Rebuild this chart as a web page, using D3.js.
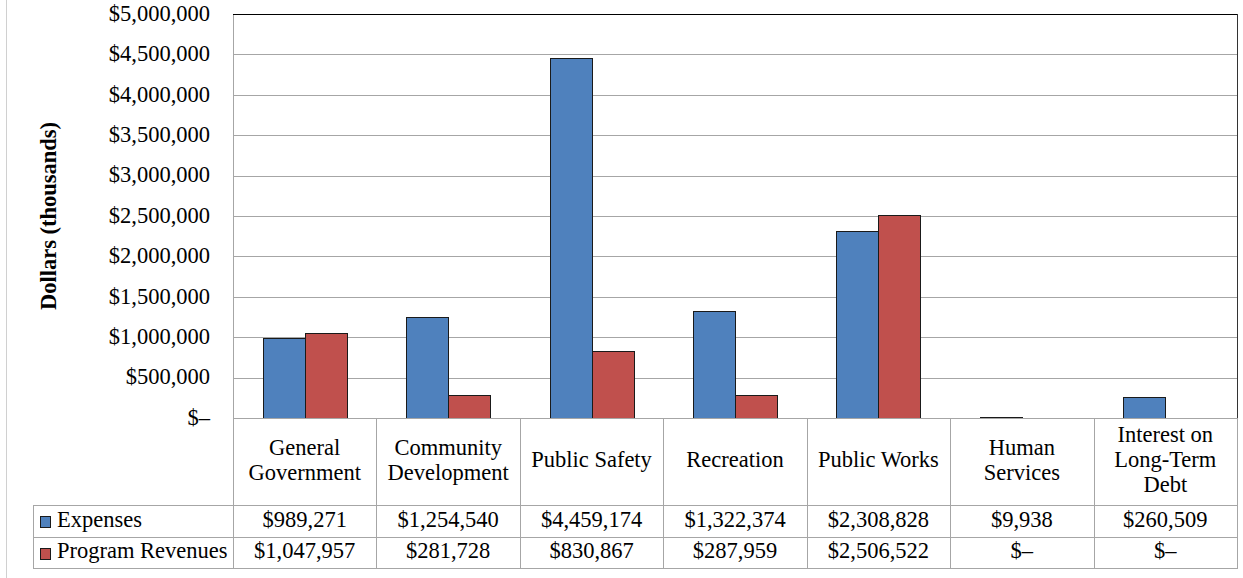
<!DOCTYPE html>
<html>
<head>
<meta charset="utf-8">
<script src="https://cdn.jsdelivr.net/npm/d3@7"></script>
<style>
  body { margin: 0; background: #fff; }
  svg { display: block; font-family: "Liberation Serif", "Times New Roman", serif; }
</style>
</head>
<body>
<svg class="chart"></svg>
<script>
var categories = [
    ["General", "Government"],
    ["Community", "Development"],
    ["Public Safety"],
    ["Recreation"],
    ["Public Works"],
    ["Human", "Services"],
    ["Interest on", "Long-Term", "Debt"]
];
var seriesNames = ["Expenses", "Program Revenues"];
var expenses = [989271, 1254540, 4459174, 1322374, 2308828, 9938, 260509];
var revenues = [1047957, 281728, 830867, 287959, 2506522, 0, 0];
var yTicks = [0, 500000, 1000000, 1500000, 2000000, 2500000, 3000000, 3500000, 4000000, 4500000, 5000000];
var colors = ["#4f81bd", "#c0504d"];

var width = 1243;
var height = 578;
var plot = { left: 233, right: 1237, top: 14, bottom: 418 };
var rowHead = 505, row1 = 537, row2 = 568, legendLeft = 33;
var gridColor = "#a6a6a6";
var fontSize = 22.5;

var chart = d3.select(".chart")
    .attr("width", width)
    .attr("height", height);

// outer chart border
chart.append("rect")
    .attr("x", 6.5).attr("y", -1)
    .attr("width", width).attr("height", height + 2)
    .attr("fill", "none").attr("stroke", "#d0d0d0");

var fmt = d3.format(",");
function money(v) { return v === 0 ? "$\u2013" : "$" + fmt(v); }

var y = d3.scaleLinear().domain([0, 5000000]).range([plot.bottom, plot.top]);
var keys = categories.map(function(d, i) { return i; });
var x = d3.scaleBand().domain(keys).range([plot.left, plot.right]);
var x1 = d3.scaleBand().domain([0, 1]).range([0, x.bandwidth()]).paddingOuter(0.707);

// gridlines
chart.append("g")
    .selectAll("line")
    .data(yTicks.slice(1, -1))
    .enter().append("line")
    .attr("x1", plot.left).attr("x2", plot.right)
    .attr("y1", function(d) { return Math.round(y(d)) + 0.5; })
    .attr("y2", function(d) { return Math.round(y(d)) + 0.5; })
    .attr("stroke", gridColor);

// y axis labels
var yAxis = d3.axisLeft(y).tickValues(yTicks).tickFormat(money).tickSize(0).tickPadding(0);
var gy = chart.append("g")
    .attr("transform", "translate(210,0)")
    .call(yAxis);
gy.select(".domain").remove();
gy.selectAll("text")
    .attr("font-family", "Liberation Serif")
    .attr("font-size", fontSize)
    .attr("dy", "0.28em")
    .attr("fill", "#000");

chart.append("text")
    .attr("transform", "translate(56,216) rotate(-90)")
    .attr("text-anchor", "middle")
    .attr("font-size", fontSize)
    .attr("font-weight", "bold")
    .text("Dollars (thousands)");

// bars
var series = [expenses, revenues];
series.forEach(function(vals, s) {
    chart.append("g")
        .selectAll("rect")
        .data(vals)
        .enter().append("rect")
        .attr("x", function(d, i) { return Math.round(x(i) + x1(s)) + 0.5; })
        .attr("width", Math.round(x1.bandwidth()))
        .attr("y", function(d) { return Math.round(y(d)) + 0.5; })
        .attr("height", function(d) { return Math.max(0, plot.bottom - Math.round(y(d))); })
        .attr("fill", colors[s])
        .attr("stroke", "#1a1a1a")
        .attr("stroke-width", 1)
        .style("display", function(d) { return d === 0 ? "none" : null; });
});

// table grid
var grid = chart.append("g").attr("stroke", gridColor).attr("fill", "none");
grid.append("line").attr("x1", plot.left).attr("x2", plot.right)
    .attr("y1", plot.bottom + 0.5).attr("y2", plot.bottom + 0.5);
[rowHead, row1, row2].forEach(function(yy) {
    grid.append("line").attr("x1", legendLeft).attr("x2", plot.right)
        .attr("y1", yy + 0.5).attr("y2", yy + 0.5);
});
grid.append("line").attr("x1", legendLeft + 0.5).attr("x2", legendLeft + 0.5)
    .attr("y1", rowHead).attr("y2", row2 + 1);
grid.append("line").attr("x1", plot.left + 0.5).attr("x2", plot.left + 0.5)
    .attr("y1", plot.top).attr("y2", row2 + 1);
keys.forEach(function(k) {
    var xx = Math.round(x(k) + x.bandwidth()) + 0.5;
    grid.append("line").attr("x1", xx).attr("x2", xx)
        .attr("y1", plot.bottom)
        .attr("y2", row2 + 1);
});

// plot top and right borders
chart.append("line").attr("x1", plot.left).attr("x2", plot.right + 1)
    .attr("y1", plot.top + 0.5).attr("y2", plot.top + 0.5).attr("stroke", "#000");
chart.append("line").attr("x1", plot.right + 0.5).attr("x2", plot.right + 0.5)
    .attr("y1", plot.top).attr("y2", plot.bottom).attr("stroke", "#333");

// category headers
var headMid = (plot.bottom + rowHead) / 2;
var lineH = 25;
chart.append("g")
    .selectAll("text")
    .data(categories)
    .enter().append("text")
    .attr("text-anchor", "middle")
    .attr("font-size", fontSize)
    .attr("x", function(d, i) { return x(i) + x.bandwidth() / 2; })
    .attr("y", function(d) { return headMid - (d.length - 1) * lineH / 2; })
    .each(function(d) {
        var t = d3.select(this);
        d.forEach(function(line, j) {
            t.append("tspan")
                .attr("x", t.attr("x"))
                .attr("dy", j === 0 ? "0.25em" : lineH)
                .text(line);
        });
    });

// data rows
var rows = [rowHead, row1, row2];
series.forEach(function(vals, s) {
    var mid = (rows[s] + rows[s + 1]) / 2;
    chart.append("rect")
        .attr("x", 40.5).attr("y", Math.round(mid - 5) + 0.5)
        .attr("width", 10).attr("height", 11)
        .attr("fill", colors[s]).attr("stroke", "#1a1a1a");
    chart.append("text")
        .attr("x", 57).attr("y", mid)
        .attr("dy", "0.25em")
        .attr("font-size", fontSize)
        .text(seriesNames[s]);
    chart.append("g")
        .selectAll("text")
        .data(vals)
        .enter().append("text")
        .attr("text-anchor", "middle")
        .attr("font-size", fontSize)
        .attr("x", function(d, i) { return x(i) + x.bandwidth() / 2; })
        .attr("y", mid)
        .attr("dy", "0.25em")
        .text(money);
});
</script>
</body>
</html>
